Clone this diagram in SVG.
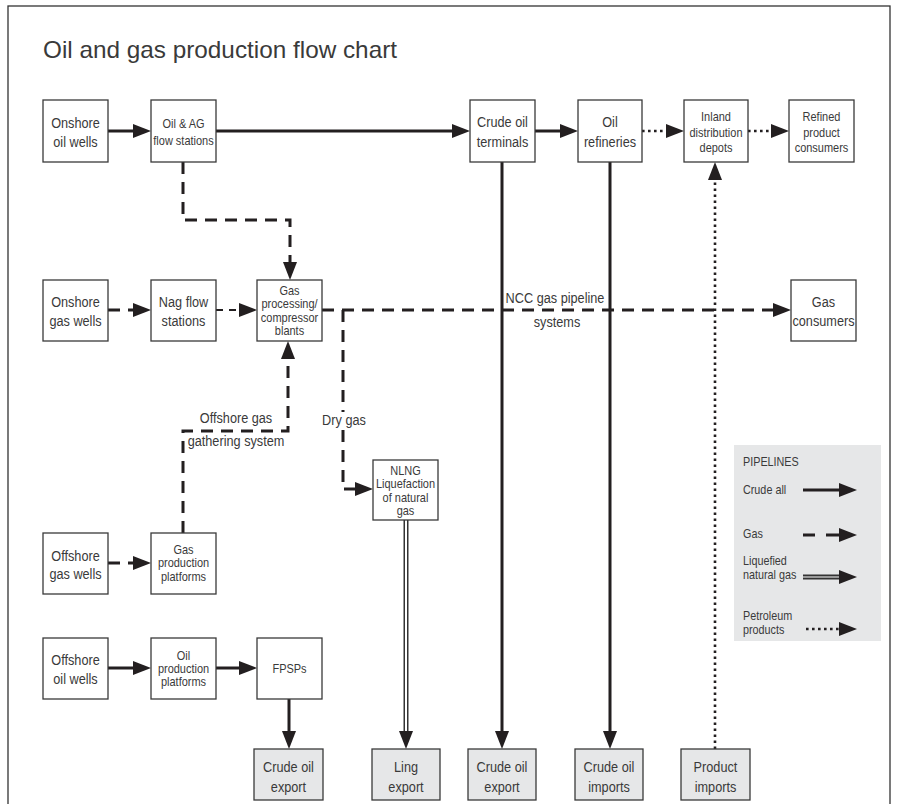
<svg xmlns="http://www.w3.org/2000/svg" width="897" height="804" viewBox="0 0 897 804">
<defs>
<style>
.frame{fill:#fff;stroke:#333;stroke-width:1.3}
.box{fill:#fff;stroke:#3a3a3a;stroke-width:1.3}
.gbox{fill:#e6e7e8;stroke:#3a3a3a;stroke-width:1.3}
text{font-family:"Liberation Sans",Arial,sans-serif;fill:#3a3a3a;transform-box:fill-box;transform:scaleX(0.82)}
.t{text-anchor:middle;font-size:15.5px;transform-origin:center}
.s{text-anchor:middle;font-size:12.2px;transform-origin:center;transform:scaleX(0.9)}
.lg{font-size:12px;transform-origin:left;transform:scaleX(0.9)}
.ttl{font-size:24px;transform:none}
.c{fill:none;stroke:#231f20;stroke-width:3}
.dash{stroke-dasharray:12 8}
.thin{stroke-width:2;stroke-dasharray:7 6}
.dot{stroke-width:2.6;stroke-dasharray:2.6 3.4}
.lngo{fill:none;stroke:#333;stroke-width:5}
.lngi{fill:none;stroke:#fff;stroke-width:2}
</style>
<marker id="ah" markerUnits="userSpaceOnUse" markerWidth="18" markerHeight="14" refX="8" refY="7" orient="auto" overflow="visible"><path d="M0,0 L18,7 L0,14 z" fill="#231f20"/></marker>
</defs>
<rect class="frame" x="8" y="6" width="882" height="820"/>
<text class="ttl" x="43" y="58" textLength="354" lengthAdjust="spacingAndGlyphs">Oil and gas production flow chart</text>

<g id="connectors">
<path class="c" d="M108,131 H141" marker-end="url(#ah)"/>
<path class="c" d="M216,131 H460" marker-end="url(#ah)"/>
<path class="c" d="M535,131 H568" marker-end="url(#ah)"/>
<path class="c dot" d="M642,131 H674" marker-end="url(#ah)"/>
<path class="c dot" d="M748,131 H779" marker-end="url(#ah)"/>
<path class="c dash" d="M183,162 V220 H290 V270" marker-end="url(#ah)"/>
<path class="c dash" d="M108,310 H141" marker-end="url(#ah)"/>
<path class="c thin" d="M216,310 H247" marker-end="url(#ah)"/>
<path class="c dash" d="M322,310 H781" marker-end="url(#ah)"/>
<path class="c dash" d="M343,310 V489 H363" marker-end="url(#ah)"/>
<path class="c dash" d="M183,533 V431 H288 V351" marker-end="url(#ah)"/>
<path class="c dash" d="M108,563 H141" marker-end="url(#ah)"/>
<path class="c" d="M108,668 H141" marker-end="url(#ah)"/>
<path class="c" d="M216,668 H247" marker-end="url(#ah)"/>
<path class="c" d="M289,699 V739" marker-end="url(#ah)"/>
<path class="c" d="M502,162 V739" marker-end="url(#ah)"/>
<path class="c" d="M610,162 V739" marker-end="url(#ah)"/>
<path class="c dot" d="M715,749 V172" marker-end="url(#ah)"/>
<path class="lngo" d="M406,520 V735"/>
<path class="lngi" d="M406,520 V735"/>
<path class="c" d="M406,735 V739" stroke="none" marker-end="url(#ah)"/>
<rect x="322" y="412" width="44" height="18" fill="#fff"/>
<text class="t" x="344" y="425">Dry gas</text>
<text class="t" x="236" y="423">Offshore gas</text>
<text class="t" x="236" y="446">gathering system</text>
<text class="t" x="555" y="303">NCC gas pipeline</text>
<text class="t" x="557" y="327">systems</text>
</g>

<g id="n1"><rect class="box" x="43" y="100" width="65" height="62"/><text class="t" x="75.5" y="128">Onshore</text><text class="t" x="75.5" y="147">oil wells</text></g>
<g id="n2"><rect class="box" x="151" y="100" width="65" height="62"/><text class="s" x="183.5" y="128">Oil &amp; AG</text><text class="s" x="183.5" y="145">flow stations</text></g>
<g id="n3"><rect class="box" x="470" y="100" width="65" height="62"/><text class="t" x="502.5" y="127">Crude oil</text><text class="t" x="502.5" y="147">terminals</text></g>
<g id="n4"><rect class="box" x="578" y="100" width="64" height="62"/><text class="t" x="610" y="127">Oil</text><text class="t" x="610" y="147">refineries</text></g>
<g id="n5"><rect class="box" x="684" y="100" width="64" height="62"/><text class="s" x="716" y="121">Inland</text><text class="s" x="716" y="137">distribution</text><text class="s" x="716" y="152">depots</text></g>
<g id="n6"><rect class="box" x="789" y="100" width="65" height="62"/><text class="s" x="821.5" y="121">Refined</text><text class="s" x="821.5" y="137">product</text><text class="s" x="821.5" y="152">consumers</text></g>
<g id="n7"><rect class="box" x="43" y="280" width="65" height="61"/><text class="t" x="75.5" y="307">Onshore</text><text class="t" x="75.5" y="326">gas wells</text></g>
<g id="n8"><rect class="box" x="151" y="280" width="65" height="61"/><text class="t" x="183.5" y="307">Nag flow</text><text class="t" x="183.5" y="326">stations</text></g>
<g id="n9"><rect class="box" x="257" y="280" width="65" height="61"/><text class="s" x="289.5" y="295">Gas</text><text class="s" x="289.5" y="308">processing/</text><text class="s" x="289.5" y="322">compressor</text><text class="s" x="289.5" y="335">blants</text></g>
<g id="n10"><rect class="box" x="791" y="280" width="65" height="61"/><text class="t" x="823.5" y="307">Gas</text><text class="t" x="823.5" y="326">consumers</text></g>
<g id="n11"><rect class="box" x="373" y="460" width="65" height="60"/><text class="s" x="405.5" y="475">NLNG</text><text class="s" x="405.5" y="488">Liquefaction</text><text class="s" x="405.5" y="502">of natural</text><text class="s" x="405.5" y="515">gas</text></g>
<g id="n12"><rect class="box" x="43" y="533" width="65" height="61"/><text class="t" x="75.5" y="561">Offshore</text><text class="t" x="75.5" y="579">gas wells</text></g>
<g id="n13"><rect class="box" x="151" y="533" width="65" height="61"/><text class="s" x="183.5" y="554">Gas</text><text class="s" x="183.5" y="567">production</text><text class="s" x="183.5" y="581">platforms</text></g>
<g id="n14"><rect class="box" x="43" y="638" width="65" height="61"/><text class="t" x="75.5" y="665">Offshore</text><text class="t" x="75.5" y="684">oil wells</text></g>
<g id="n15"><rect class="box" x="151" y="638" width="65" height="61"/><text class="s" x="183.5" y="660">Oil</text><text class="s" x="183.5" y="673">production</text><text class="s" x="183.5" y="686">platforms</text></g>
<g id="n16"><rect class="box" x="257" y="638" width="65" height="61"/><text class="s" x="289.5" y="673">FPSPs</text></g>
<g id="n17"><rect class="gbox" x="254" y="749" width="69" height="51"/><text class="t" x="288.5" y="772">Crude oil</text><text class="t" x="288.5" y="792">export</text></g>
<g id="n18"><rect class="gbox" x="372" y="749" width="68" height="51"/><text class="t" x="406" y="772">Ling</text><text class="t" x="406" y="792">export</text></g>
<g id="n19"><rect class="gbox" x="468" y="749" width="68" height="51"/><text class="t" x="502" y="772">Crude oil</text><text class="t" x="502" y="792">export</text></g>
<g id="n20"><rect class="gbox" x="575" y="749" width="68" height="51"/><text class="t" x="609" y="772">Crude oil</text><text class="t" x="609" y="792">imports</text></g>
<g id="n21"><rect class="gbox" x="681" y="749" width="69" height="51"/><text class="t" x="715.5" y="772">Product</text><text class="t" x="715.5" y="792">imports</text></g>

<g id="legend">
<rect x="734" y="445" width="147" height="196" fill="#e6e7e8"/>
<text class="lg" x="743" y="466">PIPELINES</text>
<text class="lg" x="743" y="494">Crude all</text>
<path class="c" d="M803,490 H847" marker-end="url(#ah)"/>
<text class="lg" x="743" y="538">Gas</text>
<path class="c" d="M803,535 H815 M826,535 H847" marker-end="url(#ah)"/>
<text class="lg" x="743" y="565">Liquefied</text>
<text class="lg" x="743" y="579">natural gas</text>
<path d="M803,577 H843" fill="none" stroke="#333" stroke-width="5"/>
<path d="M803,577 H843" fill="none" stroke="#999" stroke-width="2"/>
<path d="M843,577 H847" stroke="none" fill="none" marker-end="url(#ah)"/>
<text class="lg" x="743" y="620">Petroleum</text>
<text class="lg" x="743" y="634">products</text>
<path class="c dot" d="M806,629 H847" marker-end="url(#ah)"/>
</g>
</svg>
